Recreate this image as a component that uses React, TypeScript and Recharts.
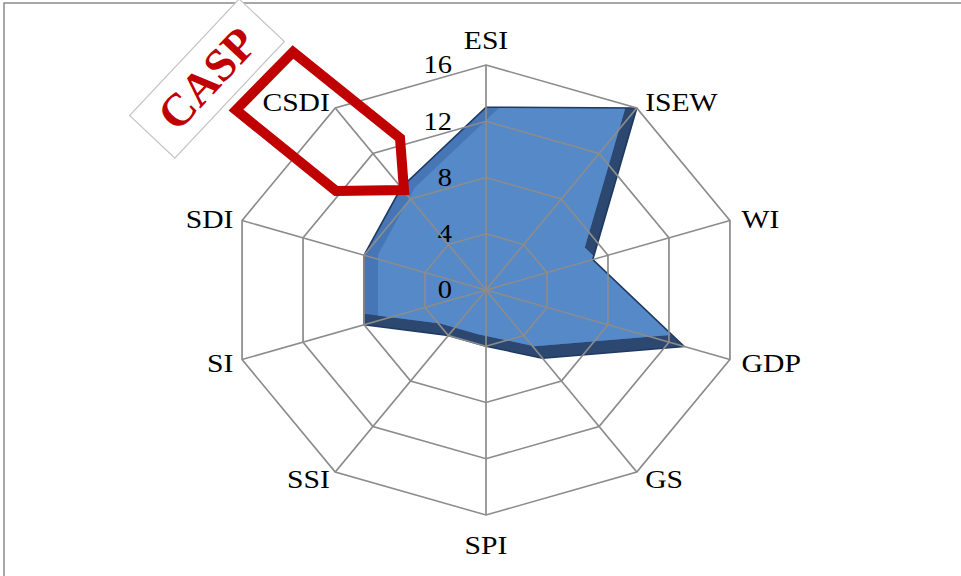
import { RadarChart, Radar, PolarGrid, PolarAngleAxis, PolarRadiusAxis } from "recharts";

const categories = ["ESI", "ISEW", "WI", "GDP", "GS", "SPI", "SSI", "SI", "SDI", "CSDI"];
const casp = [13, 16, 7, 13, 6, 4, 4, 8, 8, 9];
const radiusTicks = [0, 4, 8, 12, 16];

const chartData = categories.map((name, i) => ({ name, casp: casp[i] }));

const W = 961;
const H = 576;
const CX = 486;
const CY = 290;
const R = 225;
const STRETCH = 1.14; // the original picture is a bit wider than tall
const SERIF = "'Liberation Serif', 'Times New Roman', serif";

const AngleTick = (props: any) => {
  const { x, y, payload } = props;
  const dx = x - CX;
  const dy = y - CY;
  const len = Math.sqrt(dx * dx + dy * dy) || 1;
  let px = CX + (dx / len) * (R + 8) * STRETCH;
  let py = CY + (dy / len) * (R + 8);
  const anchor = Math.abs(dx) < 1 ? "middle" : dx > 0 ? "start" : "end";
  if (anchor === "middle") py = dy < 0 ? py - 17 : py + 22;
  else py += 1;
  if (anchor === "start") px += 3;
  return (
    <text
      transform={`translate(${px},${py}) scale(${STRETCH},1)`}
      textAnchor={anchor}
      dominantBaseline="central"
      fontFamily={SERIF}
      fontSize={26}
      fill="#000"
    >
      {payload.value}
    </text>
  );
};

const RadiusTick = (props: any) => {
  const { x, y, payload } = props;
  return (
    <text
      transform={`translate(${x - 34},${y}) scale(${STRETCH},1)`}
      textAnchor="end"
      dominantBaseline="central"
      fontFamily={SERIF}
      fontSize={25}
      fill="#000"
    >
      {payload.value}
    </text>
  );
};

// flat polygon with a simple bevel: dark lower/right edge, softer left edge
const BevelShape = (props: any) => {
  const pts = (props.points || []) as { x: number; y: number }[];
  const d = pts.map((p) => `${p.x},${p.y}`).join(" ");
  return (
    <g>
      <defs>
        <clipPath id="caspClip">
          <polygon points={d} />
        </clipPath>
        <clipPath id="caspFace">
          <polygon points={d} transform="translate(12,0)" />
        </clipPath>
      </defs>
      <polygon points={d} fill="#2c4870" />
      <g clipPath="url(#caspClip)">
        <polygon points={d} transform="translate(-7,-12)" fill="#4676b6" />
        <g clipPath="url(#caspFace)">
          <polygon points={d} transform="translate(-7,-12)" fill="#5589c8" />
        </g>
      </g>
      <polygon points={d} fill="none" stroke="#1f3a62" strokeWidth={1.5} strokeLinejoin="round" />
    </g>
  );
};

const css = `
body { margin: 0; }
.casp-chart .recharts-polar-grid,
.casp-chart .recharts-radar {
  transform: scaleX(${STRETCH});
  transform-origin: ${CX}px ${CY}px;
}
`;

export default function App() {
  return (
    <div className="casp-chart" style={{ position: "relative", width: W, height: H, background: "#fff" }}>
      <style>{css}</style>
      <RadarChart width={W} height={H} data={chartData} cx={CX} cy={CY} outerRadius={R} margin={{ top: 0, right: 0, bottom: 0, left: 0 }}>
        <Radar
          dataKey="casp"
          name="CASP"
          fill="#5589c8"
          fillOpacity={1}
          shape={BevelShape}
          isAnimationActive={false}
        />
        <PolarGrid stroke="#8c8c8c" strokeWidth={1.5} zIndex={600} />
        <PolarAngleAxis dataKey="name" axisLine={false} tickLine={false} tick={AngleTick} />
        <PolarRadiusAxis
          angle={90}
          domain={[0, 16]}
          ticks={radiusTicks}
          axisLine={false}
          tickLine={false}
          tick={RadiusTick}
        />
      </RadarChart>
      <svg width={W} height={H} style={{ position: "absolute", left: 0, top: 0, pointerEvents: "none" }}>
        <path d={`M4,${H} V3 H${W}`} fill="none" stroke="#8a8a8a" strokeWidth={1.5} />
        <polygon
          points="404,190 400,138 293,52 236,110 336,191"
          fill="none"
          stroke="#c00000"
          strokeWidth={10}
          strokeLinejoin="miter"
        />
        <g transform="translate(207,78.5) rotate(-46.8)">
          <rect x={-80} y={-31} width={160} height={62} fill="#fff" stroke="#c4c4c4" strokeWidth={1.2} />
          <text
            textAnchor="middle"
            dominantBaseline="central"
            fontFamily={SERIF}
            fontWeight="bold"
            fontSize={46}
            fill="#c00000"
          >
            CASP
          </text>
        </g>
      </svg>
    </div>
  );
}
